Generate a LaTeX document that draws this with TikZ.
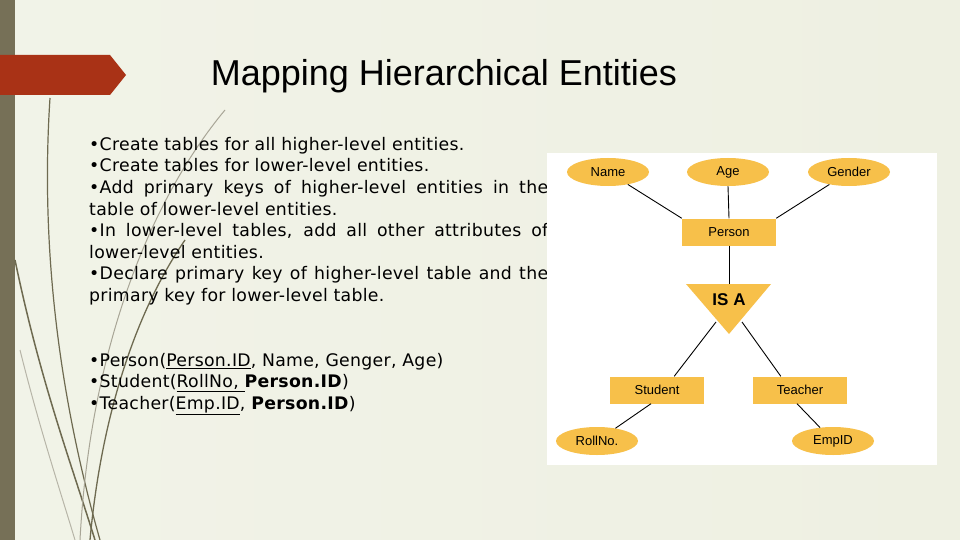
\documentclass[tikz,border=0pt]{standalone}
\usepackage{fontspec}
\setmainfont[LetterSpace=1.7]{DejaVu Sans}
\newfontfamily\titlefont{Liberation Sans}
\newfontfamily\diafont{Liberation Sans}
\usetikzlibrary{shapes.geometric}
\definecolor{bgc}{HTML}{EEF0E2}
\definecolor{barc}{HTML}{767057}
\definecolor{redc}{HTML}{A93216}
\definecolor{yel}{HTML}{F7C04A}
\definecolor{curvec}{HTML}{6E6A50}
\begin{document}
\begin{tikzpicture}[x=1pt,y=-1pt,
  attr/.style={ellipse,fill=yel,minimum width=82pt,minimum height=28pt,inner sep=0pt,font=\diafont\fontsize{13}{15}\selectfont},
  ent/.style={rectangle,fill=yel,minimum width=94pt,minimum height=27pt,inner sep=0pt,font=\diafont\fontsize{13}{15}\selectfont},
  conn/.style={draw=black,line width=0.9pt},
  bodytext/.style={anchor=north west,text width=459pt,align=justify,inner sep=0pt,font=\fontsize{17.3}{21.6}\selectfont}]
\useasboundingbox (0,0) rectangle (960,540);
\shade[left color=bgc!80!white,right color=bgc] (0,0) rectangle (960,540);
\fill[barc] (0,0) rectangle (15,540);
% decorative curves
\draw[curvec,line width=1.2pt] (50,98) .. controls (40,250) and (60,400) .. (100,540);
\draw[curvec,line width=1.5pt] (15,260) .. controls (40,380) and (70,460) .. (95,540);
\draw[curvec!60,line width=1pt] (225,110) .. controls (150,200) and (90,350) .. (80,540);
\draw[curvec,line width=1.3pt] (185,240) .. controls (130,320) and (100,430) .. (90,540);
\draw[curvec!50,line width=1pt] (20,350) .. controls (40,430) and (60,490) .. (75,540);
\fill[redc] (0,55) -- (110,55) -- (126,75) -- (110,95) -- (0,95) -- cycle;
\node[font=\titlefont\fontsize{36}{40}\selectfont,anchor=center] (title) at (444,76) {Mapping Hierarchical Entities};
\node[bodytext] (txt) at (89,137) {%
•Create tables for all higher-level entities.\\
•Create tables for lower-level entities.\\
•Add primary keys of higher-level entities in the \mbox{table} of lower-level entities.\\
•In lower-level tables, add all other attributes of lower-level entities.\\
•Declare primary key of higher-level table and the primary key for lower-level table.};
\node[anchor=north west,inner sep=0pt,align=left,font=\fontsize{17.3}{21.6}\selectfont] (rel) at (89,353) {%
•Person(\underline{Person.ID}, Name, Genger, Age)\\
•Student(\underline{RollNo, }\textbf{Person.ID})\\
•Teacher(\underline{Emp.ID}, \textbf{Person.ID})};
% diagram
\fill[white] (547,153) rectangle (937,465);
\node[attr] (name) at (608,172) {Name};
\node[attr] (age) at (728,172) {Age};
\node[attr] (gender) at (849,172) {Gender};
\node[ent] (person) at (729,232) {Person};
\fill[yel] (686,284) coordinate (tl) -- (771,284) coordinate (tr) -- (729,334) coordinate (ap) -- cycle;
\node[font=\diafont\bfseries\fontsize{17}{19}\selectfont] (isa) at (729,300) {IS A};
\coordinate (isatop) at (729,284);
\coordinate (isal) at (716,322);
\coordinate (isar) at (742,322);
\node[ent] (student) at (657,390) {Student};
\node[ent] (teacher) at (800,390) {Teacher};
\node[attr] (roll) at (597,441) {RollNo.};
\node[attr] (emp) at (833,441) {EmpID};
\draw[conn] (name) -- (person.north west);
\draw[conn] (age.south) -- (person.north);
\draw[conn] (gender) -- (person.north east);
\draw[conn] (person.south) -- (isatop);
\draw[conn] (isal) -- ([xshift=-30pt]student.north east);
\draw[conn] (isar) -- ([xshift=28pt]teacher.north west);
\draw[conn] ([xshift=-6pt]student.south) -- (roll);
\draw[conn] ([xshift=-3pt]teacher.south) -- (emp);
\end{tikzpicture}
\end{document}
